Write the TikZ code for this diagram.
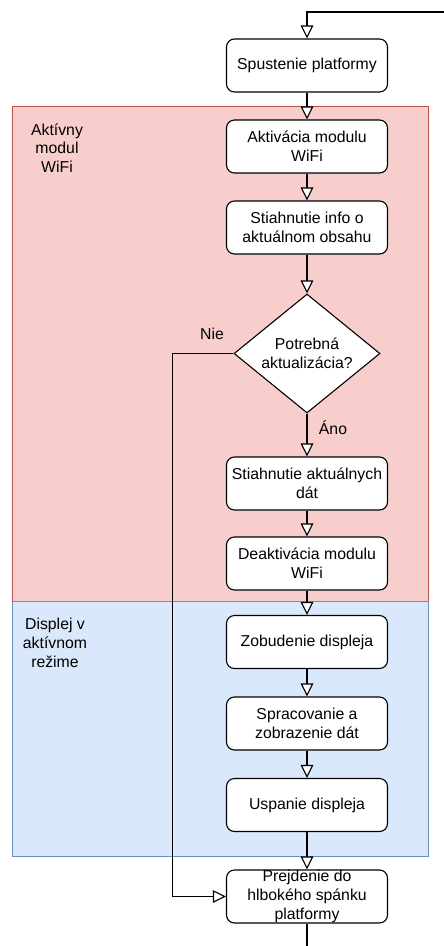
\documentclass[tikz,border=0pt]{standalone}
\usepackage{fontspec}
\setmainfont{Liberation Sans}
\usepackage{tikz}
\usetikzlibrary{arrows.meta}
\usetikzlibrary{shapes.geometric}

\definecolor{lanered}{HTML}{F8CECC}
\definecolor{laneredline}{HTML}{B85450}
\definecolor{laneblue}{HTML}{DAE8FC}
\definecolor{laneblueline}{HTML}{6C8EBF}

\tikzset{
  krok/.style={draw, rounded corners=8pt, fill=white, line width=1.1pt,
    minimum width=161pt, minimum height=53pt, inner xsep=2pt, inner ysep=0pt,
    align=center, font=\fontsize{15.8}{18.7}\selectfont},
  otazka/.style={draw, diamond, fill=white, line width=1.1pt, aspect=1.23,
    minimum width=146pt, minimum height=119pt, inner sep=0pt,
    align=center, font=\fontsize{15.8}{18.7}\selectfont},
  popis/.style={align=center, inner sep=0pt, font=\fontsize{15.8}{18.7}\selectfont},
  tok/.style={line width=1.1pt, -{Triangle[length=13pt, width=12.5pt, fill=white]}},
}

\begin{document}
\begin{tikzpicture}[x=1pt, y=-1pt]
    \useasboundingbox (0,0) rectangle (444,946);
    \draw [fill=lanered, draw=laneredline, line width=1pt] (12,106) rectangle (428,601);
    \draw [fill=laneblue, draw=laneblueline, line width=1pt] (12,601) rectangle (428,856);
    \node [popis] (laneWifi) at (57,148) {Aktívny\\modul\\WiFi};
    \node [popis] (laneDisp) at (55,643) {Displej v\\aktívnom\\režime};

    \node [krok] (start) at (307,65.5) {Spustenie platformy};
    \node [krok] (wifion) at (307,146.5) {Aktivácia modulu\\WiFi};
    \node [krok] (info) at (307,227.5) {Stiahnutie info o\\aktuálnom obsahu};
    \node [otazka] (decide) at (307,353.5) {Potrebná\\aktualizácia?};
    \node [krok] (fetch) at (307,483.5) {Stiahnutie aktuálnych\\dát};
    \node [krok] (wifioff) at (307,563.5) {Deaktivácia modulu\\WiFi};
    \node [krok] (wake) at (307,642) {Zobudenie displeja};
    \node [krok] (show) at (307,723.5) {Spracovanie a\\zobrazenie dát};
    \node [krok] (sleep) at (307,805) {Uspanie displeja};
    \node [krok] (deep) at (307,896.5) {Prejdenie do\\hlbokého spánku\\platformy};

    \node [popis] (no) at (212,334) {Nie};
    \node [popis] (yes) at (333,428) {Áno};

    \coordinate (entry) at (444,12);
    \coordinate (exit) at (307,946);
    \draw [tok] (entry) -| (start);
    \foreach \a/\b in {start/wifion, wifion/info, info/decide, decide/fetch,
        fetch/wifioff, wifioff/wake, wake/show, show/sleep, sleep/deep}
        \draw [tok] (\a) -- (\b);
    \draw [tok] (decide.west) -- ++(-61,0) |- (deep.west);
    \draw [line width=1.1pt] (deep) -- (exit);
\end{tikzpicture}
\end{document}
